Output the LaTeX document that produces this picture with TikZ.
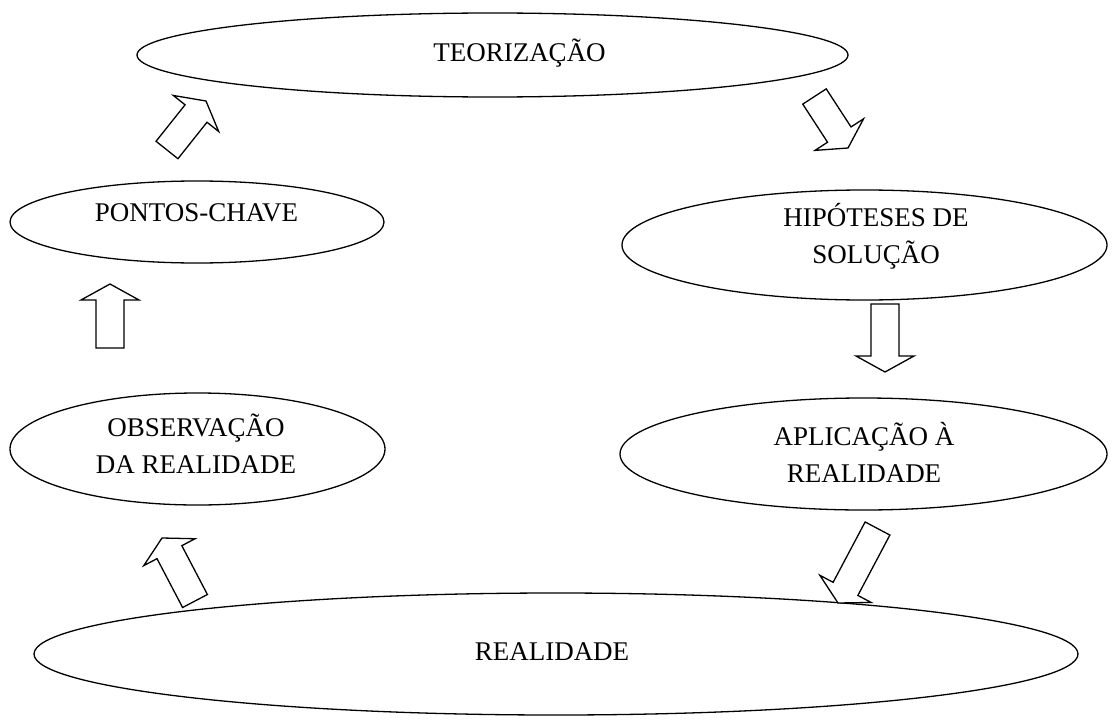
\documentclass[tikz,border=0pt]{standalone}
\usepackage{fontspec}
\setmainfont{Liberation Serif}
\usetikzlibrary{shapes.geometric,calc}
\tikzset{
  ell/.style={draw, ellipse, inner sep=0pt, line width=1.3pt},
  lbl/.style={inner sep=0pt, align=center, font=\fontsize{27}{36.6}\selectfont},
  barrow/.style={draw, line width=1.3pt, line join=miter, fill=white}
}
\newcommand\blockarrow[3]{%
  \coordinate (#1h) at ($(#3)!16pt!(#2)$);
  \draw[barrow] ($(#2)!14pt!90:(#3)$) -- ($(#1h)!14pt!90:(#3)$)
    -- ($(#1h)!29pt!90:(#3)$) -- (#3) -- ($(#1h)!29pt!-90:(#3)$)
    -- ($(#1h)!14pt!-90:(#3)$) -- ($(#2)!14pt!-90:(#3)$) -- cycle;
}
\begin{document}
\begin{tikzpicture}[x=1pt,y=-1pt]
\useasboundingbox (0,0) rectangle (1118,725);
% ellipses
\node[ell, minimum width=711pt, minimum height=84pt] (teo) at (492.5,55) {};
\node[ell, minimum width=374pt, minimum height=82pt] (pon) at (197,222) {};
\node[ell, minimum width=485pt, minimum height=110pt] (hip) at (864.5,245) {};
\node[ell, minimum width=375pt, minimum height=112pt] (obs) at (197.5,449) {};
\node[ell, minimum width=487pt, minimum height=112pt] (apl) at (863.5,454) {};
\node[ell, minimum width=1044pt, minimum height=122pt] (rea) at (556,654) {};
% labels (anchor base = baseline of the last line)
\node[lbl, anchor=base] (tteo) at (519.5,61.7) {TEORIZAÇÃO};
\node[lbl, anchor=base] (tpon) at (196.5,221.7) {PONTOS-CHAVE};
\node[lbl, anchor=base] (thip) at (876,263.3) {HIPÓTESES DE\\SOLUÇÃO};
\node[lbl, anchor=base] (tobs) at (196,473.3) {OBSERVAÇÃO\\DA REALIDADE};
\node[lbl, anchor=base] (tapl) at (864,482) {APLICAÇÃO À\\REALIDADE};
\node[lbl, anchor=base] (trea) at (552,660) {REALIDADE};
% arrows
\coordinate (a1b) at (167,150); \coordinate (a1t) at (206,101);
\coordinate (a2b) at (814.5,96.5); \coordinate (a2t) at (848,148);
\coordinate (a3b) at (110,348); \coordinate (a3t) at (110,284);
\coordinate (a4b) at (885,304); \coordinate (a4t) at (885,372);
\coordinate (a5b) at (195,601); \coordinate (a5t) at (162,538);
\coordinate (a6b) at (877.5,528.5); \coordinate (a6t) at (838,603);
\blockarrow{a1}{a1b}{a1t}
\blockarrow{a2}{a2b}{a2t}
\blockarrow{a3}{a3b}{a3t}
\blockarrow{a4}{a4b}{a4t}
\blockarrow{a5}{a5b}{a5t}
\blockarrow{a6}{a6b}{a6t}
\end{tikzpicture}
\end{document}
